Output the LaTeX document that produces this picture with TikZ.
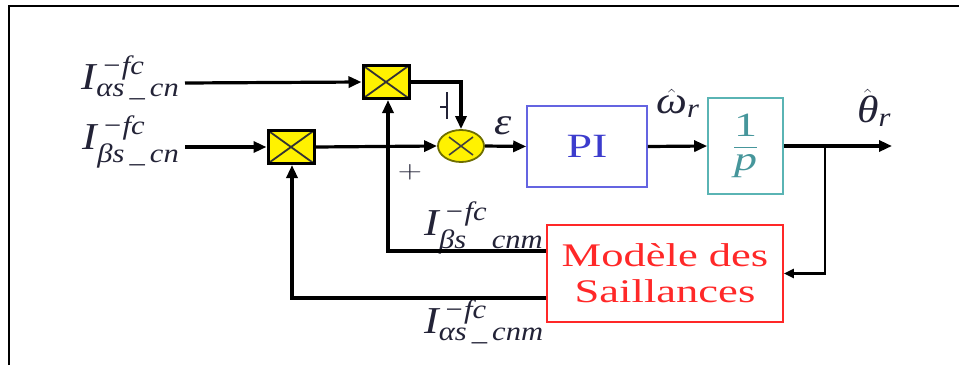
\documentclass[tikz,border=0pt]{standalone}
\usepackage{graphicx}
\usepackage{amsmath}
\usepackage{fontspec}
\setmainfont{Liberation Serif}
\usetikzlibrary{arrows.meta,shapes.geometric}
\definecolor{piblue}{RGB}{60,60,205}
\definecolor{piborder}{RGB}{100,100,225}
\definecolor{teal2}{RGB}{70,150,155}
\definecolor{tealb}{RGB}{90,180,180}
\definecolor{mred}{RGB}{255,40,40}
\definecolor{labc}{RGB}{35,35,55}
\definecolor{sumb}{RGB}{110,110,0}
\newcommand{\wide}[1]{\scalebox{1.35}[1]{#1}}
\newcommand{\lwide}[1]{\scalebox{1.15}[1]{#1}}
\newcommand{\Ilab}[1]{\lwide{$\textit{I}^{\,\textit{−fc}}_{\textit{#1}}$}}
\begin{document}
\begin{tikzpicture}[x=1pt,y=-1pt,
  line width=3.2pt,
  >={Triangle[length=13pt,width=11pt]},
  multbox/.style={draw=black,fill=yellow,line width=3pt,minimum width=46pt,minimum height=33pt,inner sep=0pt,
    path picture={\draw[line width=1.8pt,black!80] (path picture bounding box.north west) -- (path picture bounding box.south east)
      (path picture bounding box.north east) -- (path picture bounding box.south west);}},
  sumnode/.style={ellipse,draw=sumb,fill=yellow,line width=1.8pt,minimum width=46pt,minimum height=32pt,inner sep=0pt,
    path picture={\draw[line width=1.6pt,black!75] (path picture bounding box.center) ++(-12pt,-9pt) -- ++(24pt,18pt)
      (path picture bounding box.center) ++(12pt,-9pt) -- ++(-24pt,18pt);}},
  lab/.style={text=labc,font=\fontsize{38}{42}\selectfont,inner sep=0pt},
  ]
\useasboundingbox (0,0) rectangle (959,365);
% frame
\draw[line width=2.6pt] (9,365) -- (9,6) -- (959,6);

% blocks
\node[multbox] (m1) at (386,82) {};
\node[multbox] (m2) at (291,147) {};
\node[sumnode] (s) at (461,146) {};
\node[draw=piborder,line width=1.6pt,minimum width=120pt,minimum height=81pt,inner sep=0pt,
  text=piblue,font=\fontsize{34}{36}\selectfont] (pi) at (587,146.5) {\wide{PI}};
\node[draw=tealb,line width=1.6pt,minimum width=75pt,minimum height=96pt,inner sep=0pt,
  text=teal2,font=\fontsize{34}{36}\selectfont] (int) at (745.5,146)
  {\wide{$\displaystyle\frac{\hbox{1}}{\hbox{\itshape p}}$}};
\node[draw=mred,line width=1.6pt,minimum width=236pt,minimum height=97pt,inner sep=0pt,
  text=mred,font=\fontsize{33}{38}\selectfont,align=center] (mod) at (665,273.5)
  {\wide{Modèle des}\\[-2pt]\wide{Saillances}};

% labels
\node[lab,anchor=east] (la) at (181,78) {\Ilab{αs\,\_\,cn}};
\node[lab,anchor=east] (lb) at (181,142) {\Ilab{βs\,\_\,cn}};
\node[lab] (lbm) at (484,228) {\Ilab{βs\,\_\,cnm}};
\node[lab] (lam) at (484,322) {\Ilab{αs\,\_\,cnm}};
\node[lab] (eps) at (503,126) {\lwide{\textit{ε}}};
\node[lab] (om) at (678,103) {\lwide{$\hat{\textit{ω}}_{\textit{r}}$}};
\node[lab] (th) at (874,108) {\lwide{$\hat{\textit{θ}}_{\textit{r}}$}};
\node[text=labc,font=\fontsize{26}{28}\selectfont,inner sep=0pt] (plus) at (410,172) {\wide{$+$}};
\coordinate (minA) at (447,92);
\coordinate (minB) at (447,119);
\coordinate (minC) at (440,107);
\draw[line width=1.4pt,labc] (minA) -- (minB) (minC) -- (minA |- minC);

% connectors
\coordinate (la0) at (185,83);
\coordinate (lb0) at (185,147);
\draw[->] (la0) -- (m1.west);
\draw[->] (lb0) -- (m2.west);
\draw[->] (m2.east) -- (s.west);
\draw[->] (m1.east) -| (s.north);
\draw[->] (s.east) -- (pi.west);
\draw[->] (pi.east) -- (int.west);
\coordinate (out) at (892,146);
\draw[->] (int.east) -- (out);
\coordinate (br) at (825,146);
\draw[->,line width=2.4pt,>={Triangle[length=10pt,width=9pt]}] (br) |- (mod.east);
\coordinate (fb1) at (388,251);
\coordinate (fb2) at (292,298);
\draw[->] (mod.west |- fb1) -- (fb1) -- (fb1 |- m1.south);
\draw[->] (mod.west |- fb2) -- (fb2) -- (fb2 |- m2.south);
\end{tikzpicture}
\end{document}
